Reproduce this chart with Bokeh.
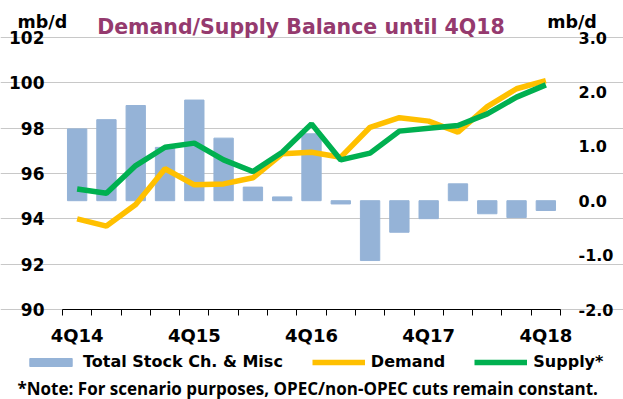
from bokeh.plotting import figure
from bokeh.models import (Range1d, LinearAxis, FixedTicker, Label, Legend, LegendItem,
                          NumeralTickFormatter)
from bokeh.embed import file_html
from bokeh.resources import INLINE

# ---------------- data ----------------
quarters = ["4Q14", "1Q15", "2Q15", "3Q15", "4Q15", "1Q16", "2Q16", "3Q16", "4Q16",
            "1Q17", "2Q17", "3Q17", "4Q17", "1Q18", "2Q18", "3Q18", "4Q18"]
stock_change = [1.32, 1.49, 1.75, 0.98, 1.85, 1.15, 0.25, 0.07, 1.23,
                -0.06, -1.10, -0.58, -0.33, 0.31, -0.24, -0.31, -0.18]
demand = [94.00, 93.68, 94.63, 96.21, 95.50, 95.54, 95.81, 96.87, 96.94,
          96.72, 98.04, 98.46, 98.31, 97.82, 98.95, 99.74, 100.10]
supply = [95.32, 95.13, 96.35, 97.16, 97.34, 96.60, 96.09, 96.94, 98.19,
          96.60, 96.90, 97.87, 98.00, 98.12, 98.63, 99.37, 99.91]
left_ticks = [90, 92, 94, 96, 98, 100, 102]
right_ticks = [-2, -1, 0, 1, 2, 3]
label_every = 4

title_text = "Demand/Supply Balance until 4Q18"
unit_text = "mb/d"
legend_labels = ["Total Stock Ch. & Misc", "Demand", "Supply*"]
note_text = "*Note: For scenario purposes, OPEC/non-OPEC cuts remain constant."

BAR_C, DEM_C, SUP_C = "#95B3D7", "#FFC000", "#00B050"
FONT = "DejaVu Sans"

# ---------------- layout (canvas pixels) ----------------
W, H = 623, 399
FR_L, FR_R, FR_T, FR_B = 62, 560, 37, 309     # plotting area inside the canvas
n = len(quarters)
L0, L1 = left_ticks[0], left_ticks[-1]
R0, R1 = right_ticks[0], right_ticks[-1]
PX = (FR_R - FR_L) / n
PY = (FR_B - FR_T) / (L1 - L0)
PR = (FR_B - FR_T) / (R1 - R0)

xs = [i + 0.5 for i in range(n)]


def cx(px):   # canvas px -> x data
    return (px - FR_L) / PX


def cy(py):   # canvas px -> left-axis data
    return L0 + (FR_B - py) / PY


p = figure(width=W, height=H,
           x_range=Range1d(cx(0), cx(W)),
           y_range=Range1d(cy(H), cy(0)),
           output_backend="svg", toolbar_location=None, min_border=0)
p.outline_line_color = None
p.extra_y_ranges = {"right": Range1d(R0 - (H - FR_B) / PR, R1 + FR_T / PR)}

bars = p.vbar(x=xs, top=stock_change, bottom=0, width=0.66, color=BAR_C,
              y_range_name="right")
dl = p.line(xs, demand, line_color=DEM_C, line_width=5.5)
sl = p.line(xs, supply, line_color=SUP_C, line_width=5.5)

p.xgrid.visible = False
p.ygrid.ticker = FixedTicker(ticks=left_ticks)
p.ygrid.bounds = (0, n)
p.ygrid.grid_line_color = "#C8C8C8"
p.ygrid.grid_line_width = 1

# bottom axis (drawn at y = 90)
xa = p.xaxis[0]
xa.fixed_location = L0
xa.bounds = (0, n)
xa.ticker = FixedTicker(ticks=[xs[i] for i in range(0, n, label_every)],
                        minor_ticks=list(range(n + 1)))
xa.major_label_overrides = {xs[i]: quarters[i] for i in range(0, n, label_every)}
xa.major_tick_line_color = None
xa.major_tick_out = 0
xa.major_tick_in = 0
xa.minor_tick_out = 6
xa.minor_tick_in = 0
xa.minor_tick_line_color = "black"
xa.axis_line_color = "black"
xa.major_label_standoff = 9
xa.major_label_text_font = FONT
xa.major_label_text_font_style = "bold"
xa.major_label_text_font_size = "18px"
xa.major_label_text_color = "black"

# left axis (drawn at x = 0)
ya = p.yaxis[0]
ya.fixed_location = 0
ya.bounds = (L0, L1)
ya.ticker = FixedTicker(ticks=left_ticks)
ya.axis_line_color = None
ya.major_tick_line_color = None
ya.minor_tick_line_color = None
ya.major_tick_out = 0
ya.major_tick_in = 0
ya.major_label_standoff = 18
ya.major_label_text_font = FONT
ya.major_label_text_font_style = "bold"
ya.major_label_text_font_size = "17px"
ya.major_label_text_color = "black"

# right axis (drawn at x = n)
ra = LinearAxis(y_range_name="right", ticker=FixedTicker(ticks=right_ticks),
                formatter=NumeralTickFormatter(format="0.0"),
                fixed_location=n, bounds=(R0, R1))
ra.axis_line_color = None
ra.major_tick_line_color = None
ra.minor_tick_line_color = None
ra.major_tick_out = 0
ra.major_tick_in = 0
ra.major_label_standoff = 18
ra.major_label_text_font = FONT
ra.major_label_text_font_style = "bold"
ra.major_label_text_font_size = "16px"
ra.major_label_text_color = "black"
p.add_layout(ra, "right")

# ---------------- texts ----------------
p.add_layout(Label(x=cx(300.5), y=cy(26.7), text=title_text, text_align="center",
                   text_baseline="alphabetic", text_font=FONT, text_font_style="bold",
                   text_font_size="20.5px", text_color="#953A6E"))
p.add_layout(Label(x=cx(17), y=cy(21.7), text=unit_text, text_align="left",
                   text_baseline="alphabetic", text_font=FONT, text_font_style="bold",
                   text_font_size="17.5px", text_color="black"))
p.add_layout(Label(x=cx(546.7), y=cy(21.7), text=unit_text, text_align="left",
                   text_baseline="alphabetic", text_font=FONT, text_font_style="bold",
                   text_font_size="17.5px", text_color="black"))
p.add_layout(Label(x=cx(17), y=cy(387.5), text=note_text, text_align="left",
                   text_baseline="alphabetic", text_font="Open Sans", text_font_style="bold",
                   text_font_size="17px", text_color="black"))

legend = Legend(items=[LegendItem(label=legend_labels[0], renderers=[bars]),
                       LegendItem(label=legend_labels[1], renderers=[dl]),
                       LegendItem(label=legend_labels[2], renderers=[sl])],
                orientation="horizontal", location=(24, 28),
                glyph_width=53, glyph_height=10, label_standoff=6, spacing=29,
                padding=0, margin=0, border_line_color=None, background_fill_alpha=0,
                label_text_font=FONT, label_text_font_style="bold",
                label_text_font_size="16px", label_text_color="black")
p.add_layout(legend, "center")

open("out.html", "w").write(file_html(p, INLINE))
